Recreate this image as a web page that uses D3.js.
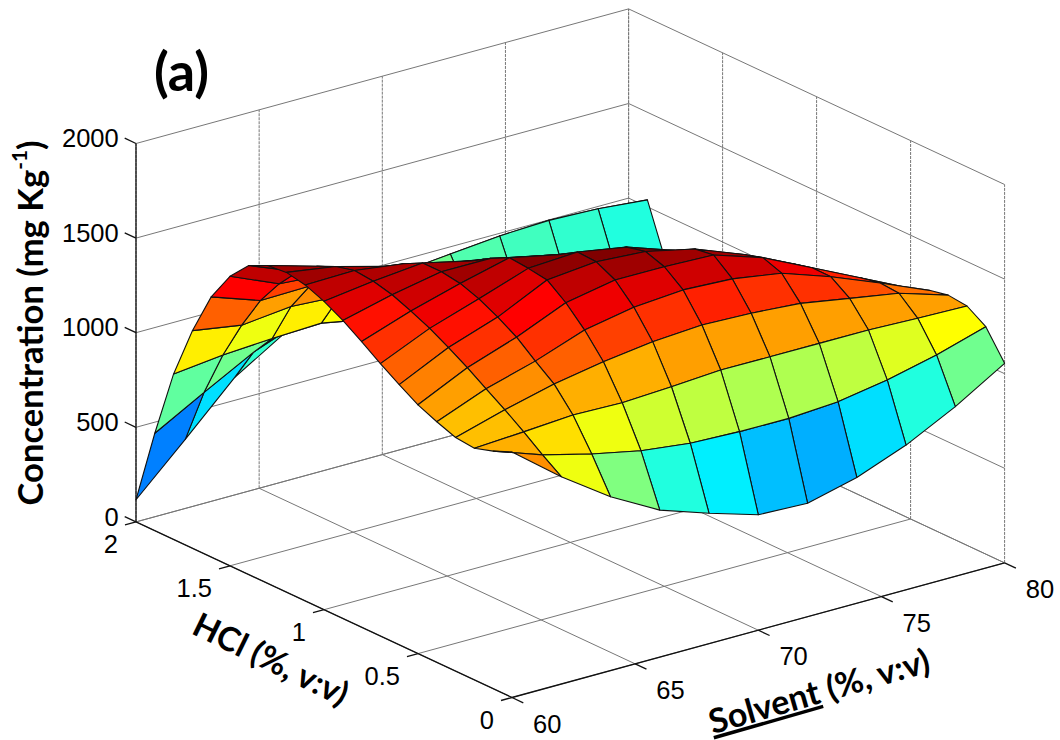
<!DOCTYPE html>
<html><head><meta charset="utf-8">
<script src="https://cdn.jsdelivr.net/npm/d3@7/dist/d3.min.js"></script>
<style>html,body{margin:0;padding:0;background:#fff;}svg{display:block;}</style>
</head><body>
<svg id="chart" width="1060" height="740"></svg>
<script>
// ---- data ----
const solvent = [60, 62, 64, 66, 68, 70, 72, 74, 76, 78, 80];
const hcl = [0, 0.1, 0.2, 0.3, 0.4, 0.5, 0.6, 0.7, 0.8, 0.9, 1.0, 1.1, 1.2, 1.3, 1.4, 1.5, 1.6, 1.7, 1.8, 1.9, 2.0];
// concentration[i][j] : HCl = hcl[i], Solvent = solvent[j]
const concentration = [
  [1298, 1096,  919,  777,  689,  610,  600,  665,  765,  897, 1055],
  [1256, 1165, 1098, 1044, 1013, 1003, 1002, 1019, 1062, 1124, 1202],
  [1225, 1240, 1258, 1252, 1265, 1282, 1281, 1281, 1280, 1271, 1265],
  [1235, 1310, 1375, 1422, 1457, 1474, 1465, 1446, 1401, 1357, 1276],
  [1272, 1375, 1450, 1543, 1592, 1613, 1600, 1559, 1469, 1365, 1255],
  [1315, 1440, 1530, 1641, 1690, 1689, 1680, 1595, 1470, 1345, 1220],
  [1375, 1500, 1590, 1715, 1740, 1723, 1665, 1565, 1445, 1310, 1180],
  [1440, 1555, 1640, 1730, 1745, 1700, 1610, 1525, 1400, 1265, 1140],
  [1510, 1600, 1675, 1740, 1685, 1635, 1565, 1470, 1345, 1215, 1100],
  [1575, 1640, 1690, 1690, 1630, 1580, 1520, 1405, 1285, 1160, 1065],
  [1630, 1665, 1690, 1630, 1580, 1525, 1450, 1335, 1220, 1105, 1030],
  [1670, 1675, 1640, 1575, 1525, 1465, 1365, 1260, 1155, 1050,  995],
  [1690, 1650, 1580, 1520, 1475, 1390, 1275, 1185, 1090,  995,  960],
  [1680, 1605, 1525, 1470, 1410, 1300, 1180, 1110, 1025,  940,  925],
  [1634, 1530, 1470, 1420, 1330, 1205, 1085, 1030,  960,  890,  890],
  [1530, 1420, 1400, 1355, 1230, 1110,  995,  950,  900,  845,  855],
  [1375, 1285, 1290, 1250, 1120, 1010,  915,  880,  845,  805,  820],
  [1150, 1108, 1135, 1120, 1000,  930,  860,  820,  800,  775,  785],
  [ 875,  904,  920,  930,  880,  885,  850,  805,  785,  770,  750],
  [ 515,  660,  800,  900,  970, 1010, 1035, 1060, 1071, 1061, 1037],
  [ 117,  365,  620,  780,  800,  800,  790,  770,  750,  730,  710]
];
const solventTicks = [60, 65, 70, 75, 80];
const hclTicks = [0, 0.5, 1, 1.5, 2];
const concTicks = [0, 500, 1000, 1500, 2000];
const panelLabel = "(a)";

// ---- scales / projection ----
const svg = d3.select("#chart");
const sX = d3.scaleLinear().domain([60, 80]).range([0, 1]);
const sY = d3.scaleLinear().domain([0, 2]).range([0, 1]);
const sZ = d3.scaleLinear().domain([0, 2000]).range([0, 1]);
const O = [512, 697.5], EU = [492.6, -134.6], EV = [-376, -175.6], EW = [0, -378.4];
function proj(s, h, c) {
  const u = sX(s), v = sY(h), w = sZ(c);
  return [O[0] + EU[0]*u + EV[0]*v + EW[0]*w, O[1] + EU[1]*u + EV[1]*v + EW[1]*w];
}
function depth(s, h, c) { return 0.567*sX(s) + 0.742*sY(h) - 0.2335*sZ(c); }

// MATLAB jet(64)
function jet(idx) {
  const r = idx <= 24 ? 0 : idx <= 40 ? (idx-24)/16 : idx <= 55 ? 1 : (72-idx)/16;
  const g = idx <= 8 ? 0 : idx <= 24 ? (idx-8)/16 : idx <= 39 ? 1 : idx <= 55 ? (56-idx)/16 : 0;
  const b = idx <= 8 ? (idx+8)/16 : idx <= 23 ? 1 : idx <= 39 ? (40-idx)/16 : 0;
  return d3.rgb(Math.round(r*255), Math.round(g*255), Math.round(b*255)).formatHex();
}
const allC = concentration.flat();
const cmin = d3.min(allC), cmax = d3.max(allC);
function colorOf(c) {
  let idx = Math.floor((c - cmin) / (cmax - cmin) * 64) + 1;
  idx = Math.max(1, Math.min(64, idx));
  return jet(idx);
}

const line = d3.line();
const gGrid = svg.append("g").attr("fill", "none").attr("stroke", "#777").attr("stroke-width", 1);
function seg(g, a, b) { return g.append("path").attr("d", line([a, b])); }

// floor grid
solventTicks.forEach(s => seg(gGrid, proj(s, 0, 0), proj(s, 2, 0)));
hclTicks.forEach(h => seg(gGrid, proj(60, h, 0), proj(80, h, 0)));
// back-left wall (HCl = 2)
solventTicks.forEach(s => seg(gGrid, proj(s, 2, 0), proj(s, 2, 2000)).attr("stroke-dasharray", "3,1"));
concTicks.forEach(c => seg(gGrid, proj(60, 2, c), proj(80, 2, c)));
// back-right wall (Solvent = 80)
hclTicks.forEach(h => seg(gGrid, proj(80, h, 0), proj(80, h, 2000)).attr("stroke-dasharray", "3,1"));
concTicks.forEach(c => seg(gGrid, proj(80, 0, c), proj(80, 2, c)));

// axes lines
const gAx = svg.append("g").attr("fill", "none").attr("stroke", "#111").attr("stroke-width", 1.3);
seg(gAx, proj(60, 2, 0), proj(60, 2, 2000));
seg(gAx, proj(60, 0, 0), proj(60, 2, 0));
seg(gAx, proj(60, 0, 0), proj(80, 0, 0));

// ticks
const zTickOff = [-11.3, -5.3], hTickOff = [-11, 3], sTickOff = [11.3, 5.3];
const add = (p, o) => [p[0] + o[0], p[1] + o[1]];
concTicks.forEach(c => { const p = proj(60, 2, c); seg(gAx, p, add(p, zTickOff)); });
hclTicks.forEach(h => { const p = proj(60, h, 0); seg(gAx, p, add(p, hTickOff)); });
solventTicks.forEach(s => { const p = proj(s, 0, 0); seg(gAx, p, add(p, sTickOff)); });

// ---- surface ----
const faces = [];
for (let i = 0; i < hcl.length - 1; i++) {
  for (let j = 0; j < solvent.length - 1; j++) {
    const corners = [[j, i], [j+1, i], [j+1, i+1], [j, i+1]];
    const pts = corners.map(([a, b]) => proj(solvent[a], hcl[b], concentration[b][a]));
    const d = d3.mean(corners, ([a, b]) => depth(solvent[a], hcl[b], concentration[b][a]));
    faces.push({pts, d, fill: colorOf(concentration[i][j])});
  }
}
faces.sort((a, b) => b.d - a.d);
svg.append("g").selectAll("path").data(faces).join("path")
  .attr("d", f => line(f.pts) + "Z")
  .attr("fill", f => f.fill)
  .attr("stroke", "#111")
  .attr("stroke-width", 1.1)
  .attr("stroke-linejoin", "round");

// ---- tick labels ----
const tickFont = "'Liberation Sans', Arial, sans-serif";
const gLab = svg.append("g").attr("font-family", tickFont).attr("font-size", 25.5).attr("fill", "#000");
concTicks.forEach(c => {
  const p = add(proj(60, 2, c), zTickOff);
  gLab.append("text").attr("x", p[0] - 6).attr("y", p[1]).attr("dy", "0.35em")
    .attr("text-anchor", "end").text(c);
});
hclTicks.forEach(h => {
  const p = add(proj(60, h, 0), hTickOff);
  gLab.append("text").attr("x", p[0] - 7).attr("y", p[1] + 19.5).attr("dy", "0.35em")
    .attr("text-anchor", "end").text(h);
});
solventTicks.forEach(s => {
  const p = add(proj(s, 0, 0), sTickOff);
  gLab.append("text").attr("x", p[0] + 24).attr("y", p[1] + 21).attr("dy", "0.35em")
    .attr("text-anchor", "middle").text(s);
});

// ---- titles ----
const titleFont = "Lato, 'Open Sans', sans-serif";
function fitText(textSel, target, base) {
  const len = textSel.node().getComputedTextLength();
  const fs = base * target / len;
  textSel.attr("font-size", fs);
  return fs;
}
// Concentration (vertical)
{
  const g = svg.append("g").attr("transform", "translate(30.5,323) rotate(-90)");
  const t = g.append("text").attr("font-family", titleFont).attr("font-weight", 700)
    .attr("font-size", 36).attr("text-anchor", "middle");
  t.append("tspan").text("Concentration (mg Kg");
  t.append("tspan").attr("font-size", "0.6em").attr("dy", "-0.75em").text("-1");
  t.append("tspan").attr("dy", "0.45em").text(")");
  const fs = fitText(t, 365, 36);
  t.attr("y", fs * 0.36);
}
// HCl title
{
  const g = svg.append("g").attr("transform", "translate(271,659) rotate(26)");
  const t = g.append("text").attr("font-family", titleFont).attr("font-weight", 700)
    .attr("font-size", 36).attr("text-anchor", "middle").text("HCl (%, v:v)");
  const fs = fitText(t, 168, 36);
  t.attr("y", fs * 0.36);
}
// Solvent title with underlined first word
{
  const g = svg.append("g").attr("transform", "translate(819,691) rotate(-16)");
  const t = g.append("text").attr("font-family", titleFont).attr("font-weight", 700)
    .attr("font-size", 36).attr("text-anchor", "middle");
  t.append("tspan").attr("text-decoration", "underline").text("Solvent");
  t.append("tspan").text(" (%, v:v)");
  const fs = fitText(t, 228, 36);
  t.attr("y", fs * 0.36);
}
// panel label
{
  const t = svg.append("text").attr("font-family", titleFont).attr("font-weight", 700)
    .attr("font-size", 44).attr("text-anchor", "middle").attr("x", 181.5).text(panelLabel);
  const fs = fitText(t, 55, 44);
  t.attr("y", 72 + fs * 0.36);
}
</script>
</body></html>
